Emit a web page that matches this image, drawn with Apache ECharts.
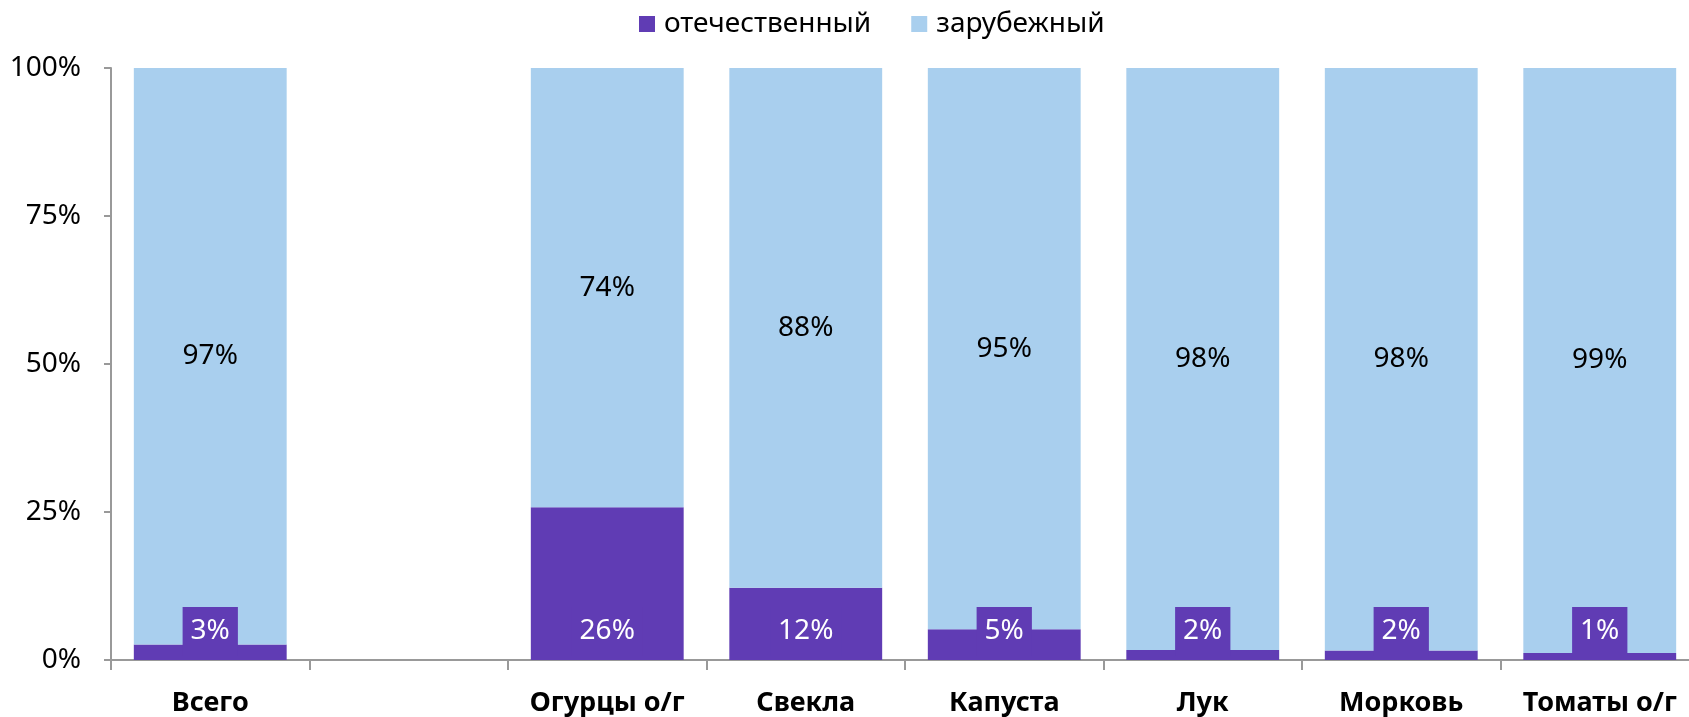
<!DOCTYPE html>
<html>
<head>
    <meta charset="utf-8">
    <title>Семена: отечественные и зарубежные</title>
    <script src="https://cdn.jsdelivr.net/npm/echarts@6/dist/echarts.min.js"></script>
    <style>
        html, body { margin: 0; padding: 0; background: #fff; }
        #chart { width: 1689px; height: 717px; }
    </style>
</head>
<body>
    <div id="chart"></div>
    <script type="text/javascript">
    // данные
    var categories = ['Всего', '', 'Огурцы о/г', 'Свекла', 'Капуста', 'Лук', 'Морковь', 'Томаты о/г'];
    var domestic = [2.6, null, 25.8, 12.2, 5.2, 1.7, 1.6, 1.2];
    var foreign = [97.4, null, 74.2, 87.8, 94.8, 98.3, 98.4, 98.8];
    var yTicks = [0, 25, 50, 75, 100];

    var FONT = 'Noto Sans';
    var PURPLE = '#603cb4';
    var BLUE = '#a9cfee';

    var myChart = echarts.init(document.getElementById('chart'));

    var option = {
        animation: false,
        textStyle: { fontFamily: FONT },
        legend: {
            top: 5,
            left: 634,
            itemWidth: 16,
            itemHeight: 16,
            itemGap: 40,
            icon: 'rect',
            textStyle: { fontSize: 28, color: '#000', fontFamily: FONT, padding: [0, 0, 0, 4] },
            data: ['отечественный', 'зарубежный']
        },
        grid: {
            left: 111,
            top: 68,
            width: 1588,
            bottom: 57,
            outerBoundsMode: 'none'
        },
        xAxis: {
            type: 'category',
            data: categories,
            axisLine: { lineStyle: { color: '#999', width: 2 } },
            axisTick: { show: true, length: 10, lineStyle: { color: '#999', width: 2 } },
            axisLabel: {
                interval: 0,
                margin: 30,
                fontSize: 27,
                fontWeight: 'bold',
                color: '#000',
                fontFamily: FONT
            }
        },
        yAxis: {
            type: 'value',
            min: yTicks[0],
            max: yTicks[yTicks.length - 1],
            interval: 25,
            splitLine: { show: false },
            axisLine: { show: true, lineStyle: { color: '#999', width: 2 } },
            axisTick: { show: true, length: 7, lineStyle: { color: '#999', width: 2 } },
            axisLabel: {
                formatter: '{value}%',
                margin: 30,
                fontSize: 28,
                color: '#000',
                fontFamily: FONT
            }
        },
        series: [
            {
                name: 'отечественный',
                type: 'bar',
                stack: 'all',
                barWidth: '77%',
                data: domestic,
                itemStyle: { color: PURPLE },
                label: {
                    show: true,
                    position: 'insideBottom',
                    distance: 4,
                    color: '#fff',
                    fontSize: 28,
                    fontFamily: FONT,
                    lineHeight: 33,
                    backgroundColor: PURPLE,
                    padding: [8, 8, 8, 8],
                    formatter: function (p) { return Math.round(p.value) + '%'; }
                }
            },
            {
                name: 'зарубежный',
                type: 'bar',
                stack: 'all',
                data: foreign,
                itemStyle: { color: BLUE },
                label: {
                    show: true,
                    position: 'inside',
                    color: '#000',
                    fontSize: 28,
                    fontFamily: FONT,
                    formatter: function (p) { return Math.round(p.value) + '%'; }
                }
            }
        ]
    };

    myChart.setOption(option);
    </script>
</body>
</html>
